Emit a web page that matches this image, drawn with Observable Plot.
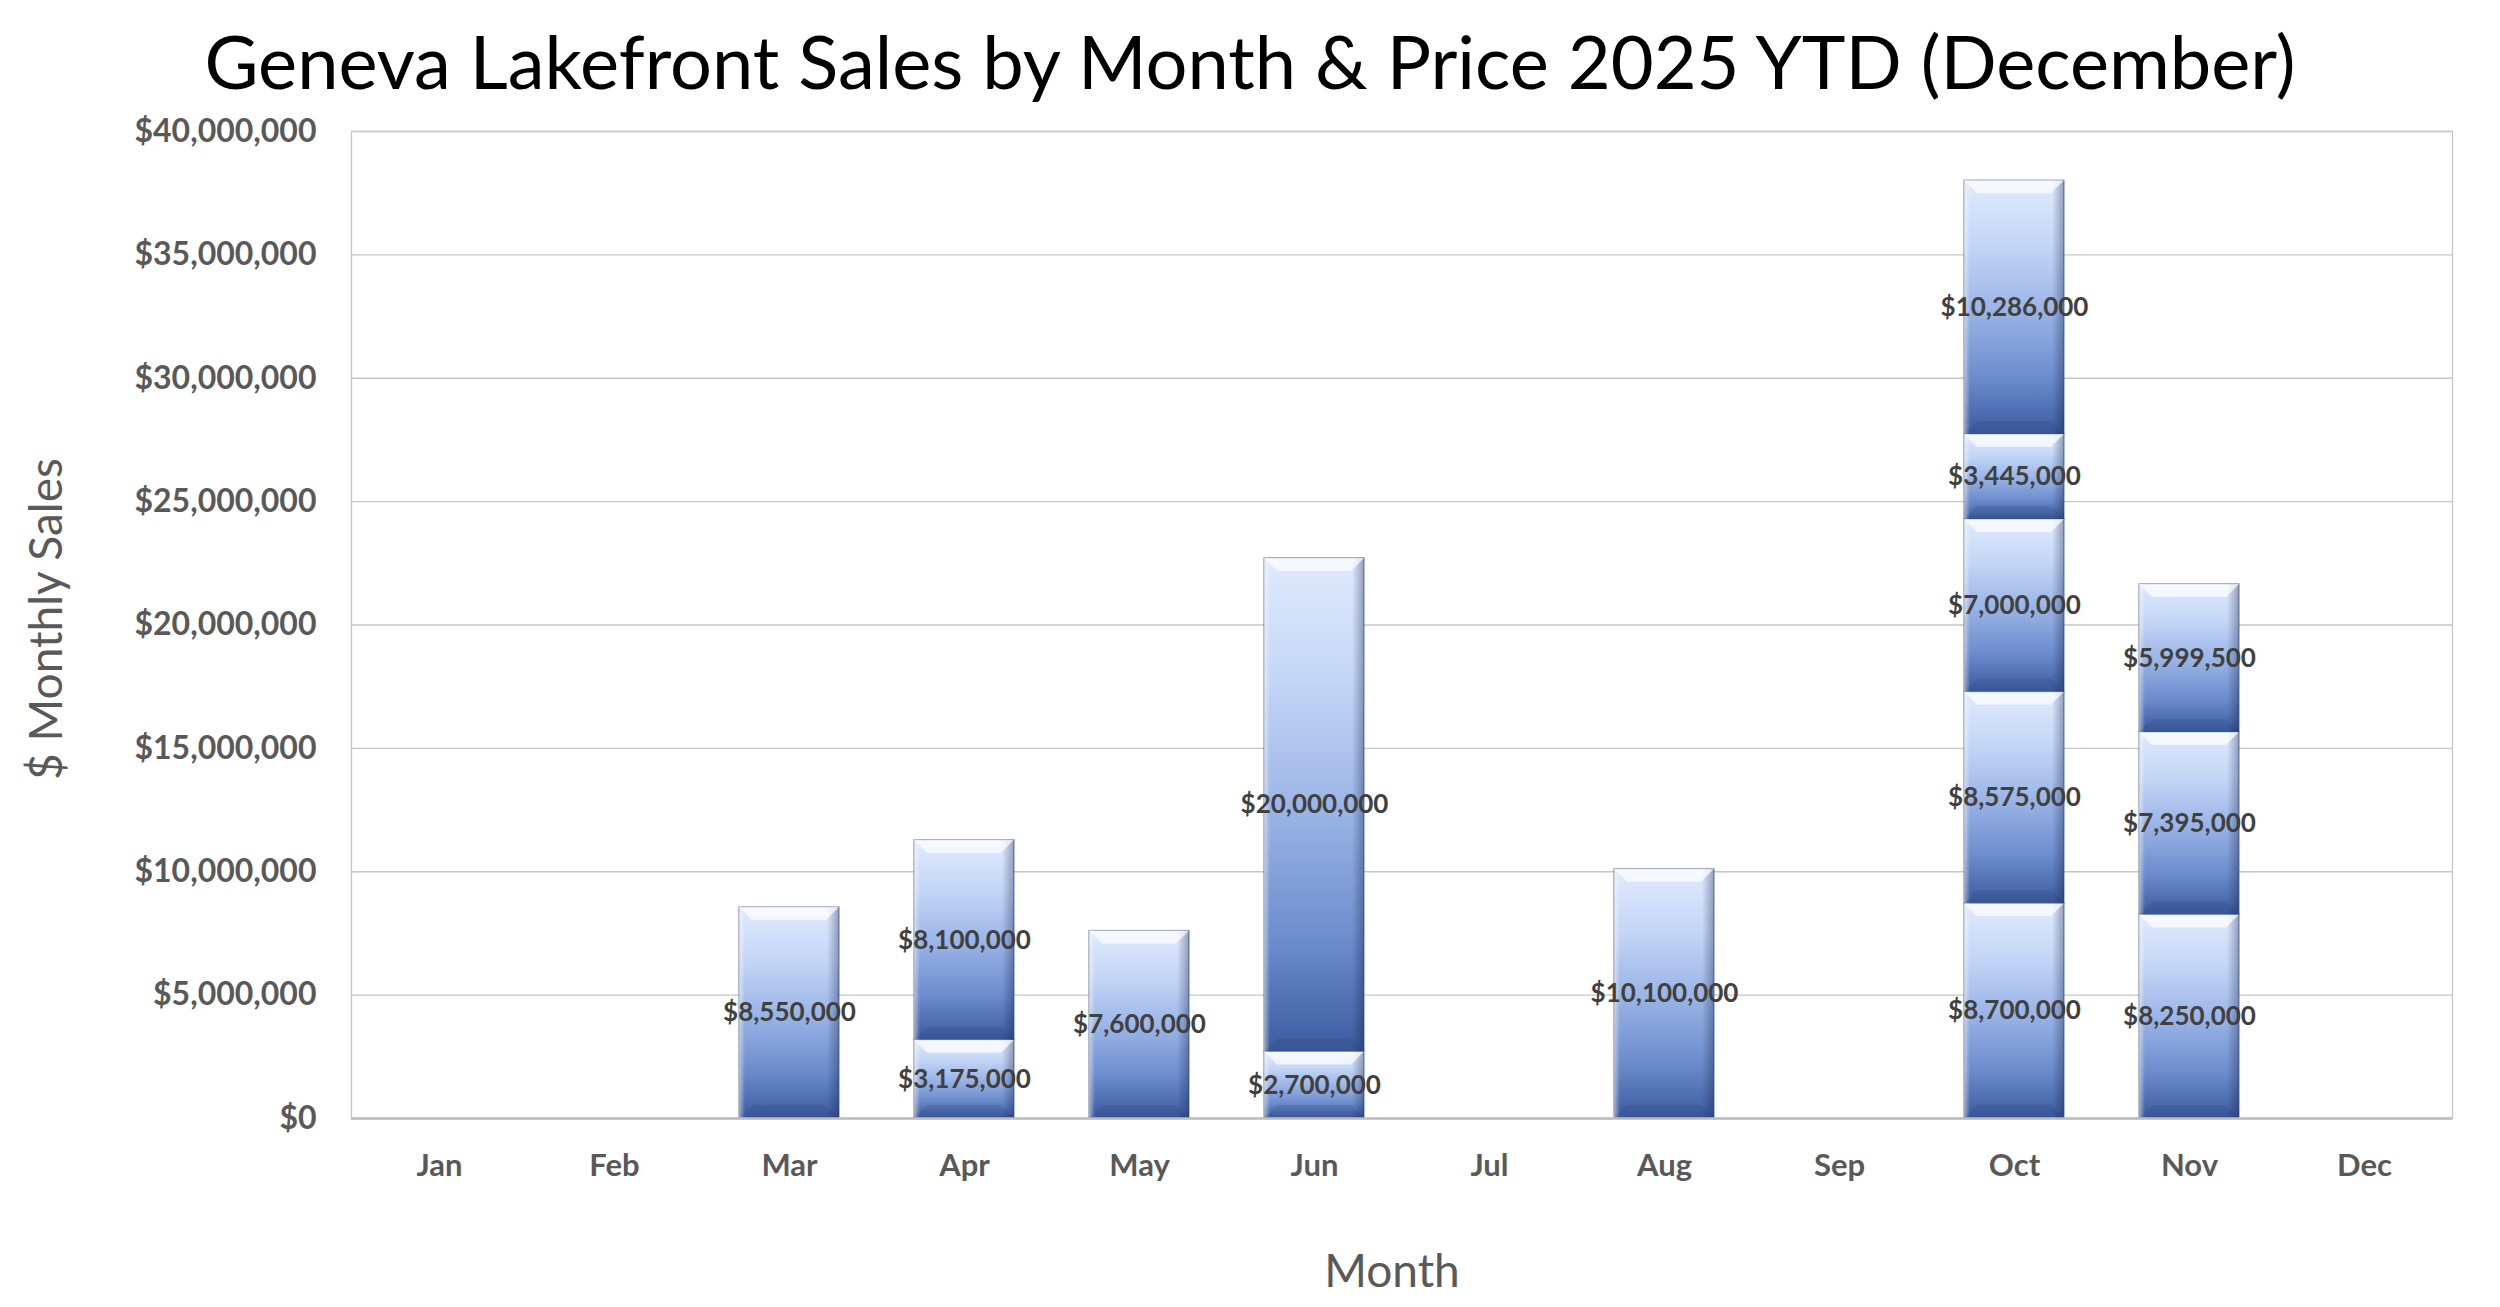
<!DOCTYPE html>
<html>
<head>
<meta charset="utf-8">
<script src="https://cdn.jsdelivr.net/npm/d3@7"></script>
<script src="https://cdn.jsdelivr.net/npm/@observablehq/plot@0.6"></script>
<style>
  html, body { margin: 0; padding: 0; background: #fff; }
  #title {
    width: 2500px; height: 110px; box-sizing: border-box; padding-top: 17px;
    font-family: Lato, sans-serif; font-size: 74px; line-height: 1.2;
    text-align: center; color: #000; white-space: nowrap;
  }
</style>
</head>
<body>
<div id="title">Geneva Lakefront Sales by Month &amp; Price 2025 YTD (December)</div>
<div id="chart"></div>
<script>
// ---- data ----
const months = ["Jan","Feb","Mar","Apr","May","Jun","Jul","Aug","Sep","Oct","Nov","Dec"];
const saleMonth = ["Mar","Apr","Apr","May","Jun","Jun","Aug","Oct","Oct","Oct","Oct","Oct","Nov","Nov","Nov"];
const saleValue = [8550000, 3175000, 8100000, 7600000, 2700000, 20000000, 10100000,
                   8700000, 8575000, 7000000, 3445000, 10286000, 8250000, 7395000, 5999500];
const yTicks = [0, 5000000, 10000000, 15000000, 20000000, 25000000, 30000000, 35000000, 40000000];
const yTitle = ["$ Monthly Sales"];
const xTitle = ["Month"];

const sales = saleMonth.map((m, i) => ({month: m, value: saleValue[i]}));
const money = d3.format("$,");

const svg = Plot.plot({
  width: 2500,
  height: 1197,
  marginTop: 21,
  marginBottom: 189,
  marginLeft: 351,
  marginRight: 48,
  style: {fontFamily: "Lato, sans-serif", background: "white"},
  x: {domain: months, paddingInner: 0.43, paddingOuter: 0.215, label: null},
  y: {domain: [0, 40000000], label: null},
  marks: [
    Plot.gridY(yTicks, {stroke: "#c6c6c6", strokeOpacity: 1, strokeWidth: 1.3}),
    Plot.frame({stroke: "#c6c6c6", strokeWidth: 1.3}),
    Plot.barY(sales, {x: "month", y: "value", fill: "url(#barFill)",
      stroke: "#3f5585", strokeWidth: 1.2, strokeOpacity: 0.65}),
    Plot.ruleY([0], {stroke: "#bdbdbd", strokeWidth: 2.5}),
    Plot.textY(sales, Plot.stackY({x: "month", y: "value", text: d => money(d.value),
      fontSize: 26, fontWeight: "bold", fill: "#404040"})),
    Plot.axisY(yTicks, {tickSize: 0, tickPadding: 35, tickFormat: money,
      fontSize: 32, fontWeight: "bold", fill: "#595959", label: null}),
    Plot.axisX({tickSize: 0, tickPadding: 35, fontSize: 31, fontWeight: "bold",
      fill: "#595959", label: null}),
    Plot.text(yTitle, {frameAnchor: "left", textAnchor: "middle", dx: -304, dy: -6, rotate: -90,
      fontSize: 46, fill: "#595959", text: d => d}),
    Plot.text(xTitle, {frameAnchor: "bottom", dx: -10, dy: 154, lineAnchor: "middle",
      fontSize: 46, fill: "#595959", text: d => d})
  ]
});

// gradients for the bevelled bar look
const s = d3.select(svg);
const defs = s.insert("defs", ":first-child");
const g1 = defs.append("linearGradient").attr("id", "barFill")
  .attr("x1", 0).attr("y1", 0).attr("x2", 0).attr("y2", 1);
[[0, "#e0eafd"], [0.25, "#c4d6f6"], [0.5, "#9cb6e7"], [0.78, "#6b8bcc"], [1, "#3c5b9f"]]
  .forEach(([o, c]) => g1.append("stop").attr("offset", o).attr("stop-color", c));
const g2 = defs.append("linearGradient").attr("id", "barSide")
  .attr("x1", 0).attr("y1", 0).attr("x2", 1).attr("y2", 0);
[[0, "#ffffff", 0.5], [0.06, "#ffffff", 0], [0.88, "#101c40", 0], [1, "#101c40", 0.35]]
  .forEach(([o, c, a]) => g2.append("stop").attr("offset", o).attr("stop-color", c).attr("stop-opacity", a));

s.selectAll('g[aria-label="bar"] rect').each(function () {
  const r = d3.select(this);
  const x = +r.attr("x"), y = +r.attr("y"), w = +r.attr("width"), h = +r.attr("height");
  const parent = d3.select(this.parentNode);
  const b = Math.min(13, h / 3);
  parent.append("rect").attr("x", x).attr("y", y).attr("width", w).attr("height", h)
    .attr("fill", "url(#barSide)").attr("stroke", "none");
  parent.append("polygon")
    .attr("points", `${x},${y} ${x + w},${y} ${x + w - b},${y + b} ${x + b},${y + b}`)
    .attr("fill", "#ffffff").attr("fill-opacity", 0.7).attr("stroke", "none");
  parent.append("polygon")
    .attr("points", `${x},${y + h} ${x + w},${y + h} ${x + w - b},${y + h - b} ${x + b},${y + h - b}`)
    .attr("fill", "#1c356a").attr("fill-opacity", 0.15).attr("stroke", "none");
});

document.getElementById("chart").appendChild(svg);
</script>
</body>
</html>
